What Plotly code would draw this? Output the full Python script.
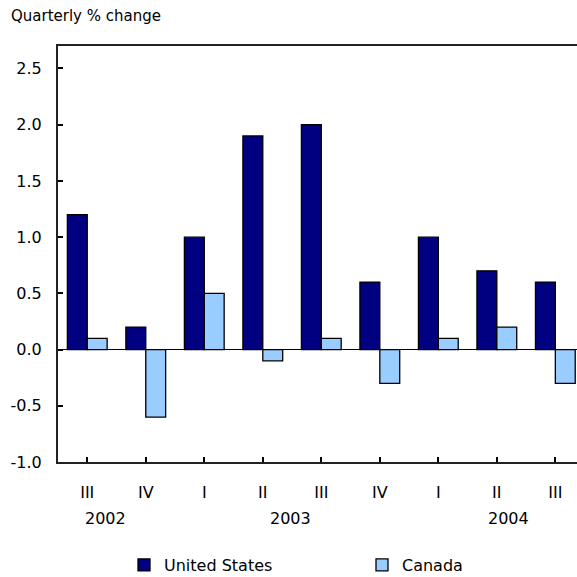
import plotly.graph_objects as go

# Quarterly growth, 2002 Q3 to 2004 Q3
quarters = ["III", "IV", "I", "II", "III", "IV", "I", "II", "III"]
years = ["2002", "2003", "2004"]
united_states = [1.2, 0.2, 1.0, 1.9, 2.0, 0.6, 1.0, 0.7, 0.6]
canada = [0.1, -0.6, 0.5, -0.1, 0.1, -0.3, 0.1, 0.2, -0.3]
y_ticks = [-1.0, -0.5, 0.0, 0.5, 1.0, 1.5, 2.0, 2.5]

FONT = "DejaVu Sans"
idx = list(range(len(quarters)))

fig = go.Figure()
fig.add_trace(go.Bar(
    x=idx, y=united_states, name="United States",
    marker=dict(color="#000080", line=dict(color="black", width=1.3)),
))
fig.add_trace(go.Bar(
    x=idx, y=canada, name="Canada",
    marker=dict(color="#99CCFF", line=dict(color="black", width=1.3)),
))

# year labels below the quarter labels
year_x = [0.31, 3.47, 7.2]
for yr, xp in zip(years, year_x):
    fig.add_annotation(
        x=xp, xref="x", y=-0.137, yref="paper", yanchor="middle",
        text=yr, showarrow=False, font=dict(family=FONT, size=16, color="black"),
    )

fig.add_annotation(
    x=(9 - 58) / 519, xref="paper", xanchor="left", y=1 + 30 / 416, yref="paper",
    yanchor="middle", text="Quarterly % change", showarrow=False,
    font=dict(family=FONT, size=15, color="black"),
)

fig.update_layout(
    width=577, height=577,
    margin=dict(l=58, r=0, t=46, b=115),
    paper_bgcolor="white", plot_bgcolor="white",
    barmode="group", bargap=0.32, bargroupgap=0,
    font=dict(family=FONT, size=16, color="black"),
    showlegend=True,
    legend=dict(
        orientation="h", xref="container", yref="container",
        x=124 / 577, xanchor="left", y=1 - 565 / 577, yanchor="middle",
        entrywidth=193, entrywidthmode="pixels",
        font=dict(family=FONT, size=16, color="black"),
        itemwidth=30,
    ),
    xaxis=dict(
        range=[-0.5, 8.37],
        tickmode="array", tickvals=idx, ticktext=quarters,
        tickson="boundaries", ticks="inside", ticklen=5, tickwidth=1.5, tickcolor="black",
        showline=True, linecolor="#222", linewidth=2, mirror=True,
        showgrid=False, zeroline=False, fixedrange=True,
        ticklabelstandoff=15,
    ),
    yaxis=dict(
        range=[-1, 2.7], tickmode="array", tickvals=y_ticks,
        ticktext=[f"{v:.1f}" for v in y_ticks],
        ticks="inside", ticklen=5, tickwidth=1.5, tickcolor="black",
        showline=True, linecolor="#222", linewidth=2,
        showgrid=False, zeroline=True, zerolinecolor="black", zerolinewidth=1.2,
        ticklabelstandoff=11,
    ),
)

fig.write_html("out.html")
